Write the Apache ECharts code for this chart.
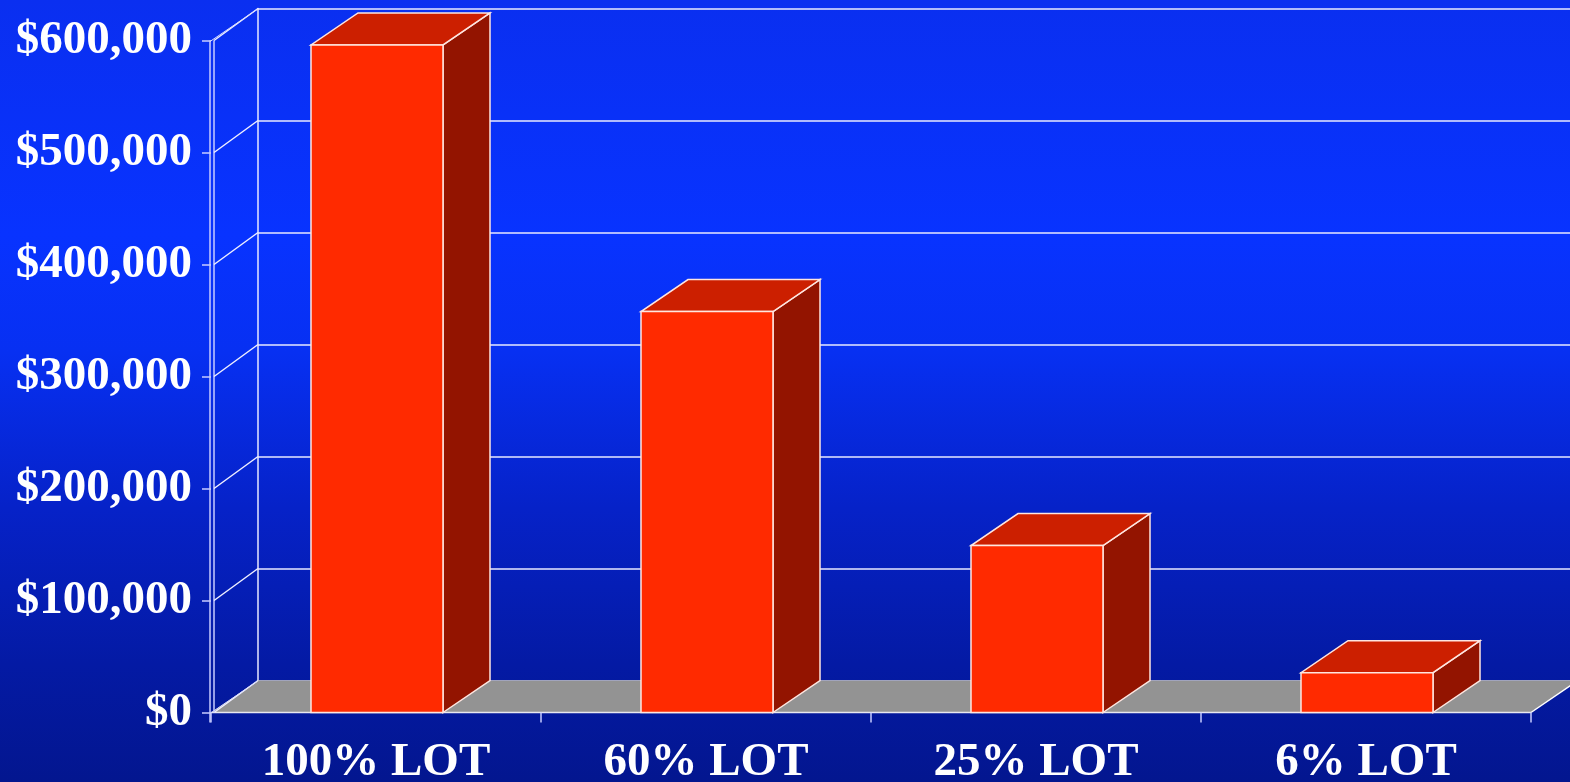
<!DOCTYPE html>
<html>
<head>
<meta charset="utf-8">
<script src="https://cdn.jsdelivr.net/npm/echarts@6/dist/echarts.min.js"></script>
<style>
  html, body { margin: 0; padding: 0; }
  body {
    width: 1570px; height: 782px; overflow: hidden;
    background: linear-gradient(to bottom, #0a2ff0 0%, #0833ff 30%, #0730f2 45%, #0622c8 65%, #041aa4 85%, #03168f 100%);
  }
  #chart { width: 1570px; height: 782px; }
</style>
</head>
<body>
<div id="chart"></div>
<script>
// ---- data ----
const categories = ['100% LOT', '60% LOT', '25% LOT', '6% LOT'];
const values = [596000, 358000, 149000, 35500];
const yTicks = [0, 100000, 200000, 300000, 400000, 500000, 600000];

// ---- styling constants ----
const DX = 47, DY = -32;
const FONT = 'Liberation Serif, Times New Roman, serif';
const EDGE = '#ffe6e0';

const chart = echarts.init(document.getElementById('chart'), null, { renderer: 'canvas' });

function renderBar(params, api) {
  const cat = api.value(0), val = api.value(1);
  const base = api.coord([cat, 0]);
  const top = api.coord([cat, val]);
  const band = api.size([1, 0])[0];
  const w = band * 0.4;
  const x0 = top[0] - w / 2 + 1, x1 = x0 + w;
  const yb = base[1], yt = top[1];
  const st = { stroke: EDGE, lineWidth: 1.5 };
  return {
    type: 'group',
    children: [
      { type: 'polygon', shape: { points: [[x1, yb], [x1 + DX, yb + DY], [x1 + DX, yt + DY], [x1, yt]] }, style: Object.assign({ fill: '#931400' }, st) },
      { type: 'polygon', shape: { points: [[x0, yt], [x1, yt], [x1 + DX, yt + DY], [x0 + DX, yt + DY]] }, style: Object.assign({ fill: '#cc1f00' }, st) },
      { type: 'rect', shape: { x: x0, y: yt, width: w, height: yb - yt }, style: Object.assign({ fill: '#ff2a00' }, st) }
    ]
  };
}

function renderFloor(params, api) {
  const cs = params.coordSys;
  const y0 = api.coord([0, 0])[1];
  const xl = cs.x, xr = cs.x + cs.width;
  return {
    type: 'group',
    children: [
      { type: 'polygon', shape: { points: [[xl, y0], [xr, y0], [xr + DX, y0 + DY], [xl + DX, y0 + DY]] }, style: { fill: '#939393', stroke: null } },
      { type: 'line', shape: { x1: xr, y1: y0, x2: xr + DX, y2: y0 + DY }, style: { stroke: '#ffffff', lineWidth: 1.5 } },
      { type: 'line', shape: { x1: xl, y1: y0, x2: xr, y2: y0 }, style: { stroke: '#e8e8f0', lineWidth: 1.5 } }
    ]
  };
}

function renderWall(params, api) {
  const cs = params.coordSys;
  const v = api.value(0);
  const y = api.coord([0, v])[1];
  const xl = cs.x;
  const children = [
    { type: 'line', shape: { x1: xl + 3, y1: y, x2: xl + DX, y2: y + DY }, style: { stroke: '#f0f0ff', lineWidth: 1.5 } }
  ];
  if (v === 0 || v === 600000) {
    children.push({ type: 'line', shape: { x1: xl - 1, y1: y + 1, x2: xl + DX - 1, y2: y + DY + 1 }, style: { stroke: '#d8dcff', lineWidth: 1 } });
  }
  if (v === 0) {
    // front double axis line
    const yTop = api.coord([0, 600000])[1];
    children.push({ type: 'line', shape: { x1: xl + 3, y1: yTop, x2: xl + 3, y2: y }, style: { stroke: '#c8ccff', lineWidth: 1.5 } });
    children.push({ type: 'line', shape: { x1: xl - 1, y1: yTop, x2: xl - 1, y2: y + 10 }, style: { stroke: '#c8ccff', lineWidth: 1.5 } });
  }
  return { type: 'group', children: children };
}

const option = {
  backgroundColor: 'transparent',
  animation: false,
  grid: [
    { left: 211, right: 39, top: 40.5, bottom: 69.5, containLabel: false, outerBoundsMode: 'none' },
    { left: 258, right: -8, top: 8.5, bottom: 101.5, containLabel: false, outerBoundsMode: 'none' }
  ],
  xAxis: [
    {
      type: 'category', gridIndex: 0, data: categories, z: 4,
      axisLine: { show: false },
      axisTick: { show: true, length: 10, lineStyle: { color: '#c8ccff', width: 1.5 } },
      axisLabel: { color: '#ffffff', fontFamily: FONT, fontWeight: 'bold', fontSize: 47, margin: 27 },
      splitLine: { show: false }
    },
    { type: 'category', gridIndex: 1, data: categories, show: false }
  ],
  yAxis: [
    {
      type: 'value', gridIndex: 0, min: 0, max: 600000, interval: 100000,
      axisLine: { show: false },
      axisTick: { show: true, length: 9, lineStyle: { color: '#c8ccff', width: 1.5 } },
      axisLabel: {
        color: '#ffffff', fontFamily: FONT, fontWeight: 'bold', fontSize: 47, margin: 19,
        padding: [8, 0, 0, 0],
        formatter: v => '$' + v.toLocaleString('en-US')
      },
      splitLine: { show: false }
    },
    {
      type: 'value', gridIndex: 1, min: 0, max: 600000, interval: 100000,
      axisLine: { show: true, lineStyle: { color: '#e8eaff', width: 1.5 } },
      axisTick: { show: false },
      axisLabel: { show: false },
      splitLine: { show: true, lineStyle: { color: '#e8eaff', width: 1.5 } }
    }
  ],
  series: [
    {
      type: 'custom', xAxisIndex: 0, yAxisIndex: 0, z: 1,
      renderItem: renderFloor, data: [[0]], silent: true
    },
    {
      type: 'custom', xAxisIndex: 0, yAxisIndex: 0, z: 1,
      renderItem: renderWall, data: yTicks.map(v => [v]), silent: true
    },
    {
      type: 'custom', xAxisIndex: 0, yAxisIndex: 0, z: 3,
      renderItem: renderBar,
      data: values.map((v, i) => [i, v])
    }
  ]
};
chart.setOption(option);
</script>
</body>
</html>
